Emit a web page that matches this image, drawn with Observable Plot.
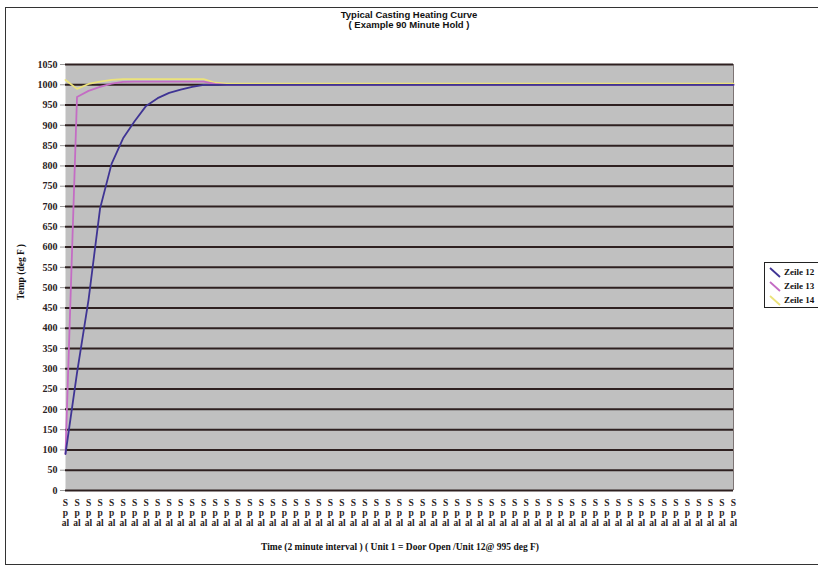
<!DOCTYPE html>
<html>
<head>
<meta charset="utf-8">
<script src="https://cdn.jsdelivr.net/npm/d3@7"></script>
<script src="https://cdn.jsdelivr.net/npm/@observablehq/plot@0.6"></script>
<style>
  html, body { margin: 0; padding: 0; background: #fff; }
  #wrap { position: relative; width: 818px; height: 571px; overflow: hidden; }
  #border { position: absolute; left: 5px; top: 7px; width: 830px; height: 558px; border: 1px solid #333; box-sizing: border-box; }
  #title { position: absolute; left: 0; top: 10px; width: 818px; text-align: center; font: bold 9.5px "Liberation Sans", Arial, sans-serif; line-height: 10px; color: #111; }
  #ytitle { position: absolute; left: 21px; top: 272px; transform: translate(-50%, -50%) rotate(-90deg); white-space: nowrap; font: bold 9.5px "Liberation Serif", serif; color: #111; }
  #xtitle { position: absolute; left: 0; top: 542px; width: 800px; text-align: center; font: bold 9.5px "Liberation Serif", serif; color: #111; }
  #legend { position: absolute; left: 764px; top: 262px; width: 62px; height: 46px; border: 1px solid #222; background: #fff; box-sizing: border-box; font: bold 9px "Liberation Serif", serif; color: #111; padding-top: 2px; }
  .li { display: flex; align-items: center; height: 14px; padding-left: 4px; }
  .li svg { margin-right: 3px; }
  #chart { position: absolute; left: 0; top: 0; }
  #chart svg text { font-weight: bold; fill: #2a2222; }
</style>
</head>
<body>
<div id="wrap">
  <div id="border"></div>
  <div id="chart"></div>
  <div id="title">Typical Casting Heating Curve<br>( Example 90 Minute Hold )</div>
  <div id="ytitle">Temp (deg F )</div>
  <div id="xtitle">Time (2 minute interval ) ( Unit 1 = Door Open /Unit 12@ 995 deg F)</div>
  <div id="legend"></div>
</div>
<script>
// ---- data ----
const seriesNames = ["Zeile 12", "Zeile 13", "Zeile 14"];
const seriesColors = ["#3f3494", "#c46cc4", "#ebe27a"];
const categoryLabel = "S\np\nal";
const categoryCount = 59;
const yTicks = [0,50,100,150,200,250,300,350,400,450,500,550,600,650,700,750,800,850,900,950,1000,1050];

const zeile12 = [90, 290, 470, 695, 805, 868, 910, 948, 967, 980, 988, 995, 1000, 1000, 1000,
  1000,1000,1000,1000,1000,1000,1000,1000,1000,1000,1000,1000,1000,1000,1000,
  1000,1000,1000,1000,1000,1000,1000,1000,1000,1000,1000,1000,1000,1000,1000,
  1000,1000,1000,1000,1000,1000,1000,1000,1000,1000,1000,1000,1000,1000];
const zeile13 = [90, 970, 985, 995, 1003, 1007, 1008, 1008, 1008, 1008, 1008, 1008, 1008, 1002, 1000,
  1000,1000,1000,1000,1000,1000,1000,1000,1000,1000,1000,1000,1000,1000,1000,
  1000,1000,1000,1000,1000,1000,1000,1000,1000,1000,1000,1000,1000,1000,1000,
  1000,1000,1000,1000,1000,1000,1000,1000,1000,1000,1000,1000,1000,1000];
const zeile14 = [1012, 990, 1002, 1008, 1012, 1014, 1014, 1014, 1014, 1014, 1014, 1014, 1014, 1005, 1003,
  1003,1003,1003,1003,1003,1003,1003,1003,1003,1003,1003,1003,1003,1003,1003,
  1003,1003,1003,1003,1003,1003,1003,1003,1003,1003,1003,1003,1003,1003,1003,
  1003,1003,1003,1003,1003,1003,1003,1003,1003,1003,1003,1003,1003,1003];

// ---- table (drawn in reverse so Zeile 12 is on top) ----
const seriesValues = [zeile12, zeile13, zeile14];
const rows = [];
[2, 1, 0].forEach(s => seriesValues[s].forEach((v, i) => rows.push({i, v, s: seriesNames[s]})));
const categories = d3.range(categoryCount);

const chart = Plot.plot({
  width: 818,
  height: 571,
  marginLeft: 65,
  marginRight: 85,
  marginTop: 64,
  marginBottom: 81,
  style: {background: "transparent", fontFamily: "'Liberation Serif', serif", color: "#222"},
  x: {domain: [0, categoryCount - 1], axis: null},
  y: {domain: [0, 1050], axis: null},
  color: {domain: seriesNames, range: seriesColors},
  marks: [
    Plot.frame({fill: "#c0c0c0", stroke: "none"}),
    Plot.ruleY(yTicks, {stroke: "#2e2020", strokeWidth: 2}),
    Plot.ruleX([categoryCount - 1], {stroke: "#7d7474", strokeWidth: 1}),
    Plot.axisY({ticks: yTicks, tickFormat: d => String(d), tickSize: 5, tickPadding: 3, fontSize: 10, label: null, stroke: "#999"}),
    Plot.axisX({ticks: categories, tickFormat: () => categoryLabel, tickSize: 0, tickPadding: 8, fontSize: 9.5, lineHeight: 1.05, label: null, textAnchor: "middle"}),
    Plot.line(rows, {x: "i", y: "v", z: "s", stroke: "s", strokeWidth: 1.8, curve: "linear"})
  ]
});
document.getElementById("chart").appendChild(chart);

// legend
const leg = document.getElementById("legend");
seriesNames.forEach((n, k) => {
  const d = document.createElement("div");
  d.className = "li";
  d.innerHTML = `<svg width="12" height="12"><line x1="1" y1="2" x2="11" y2="11" stroke="${seriesColors[k]}" stroke-width="1.8"/></svg><span>${n}</span>`;
  leg.appendChild(d);
});
</script>
</body>
</html>
